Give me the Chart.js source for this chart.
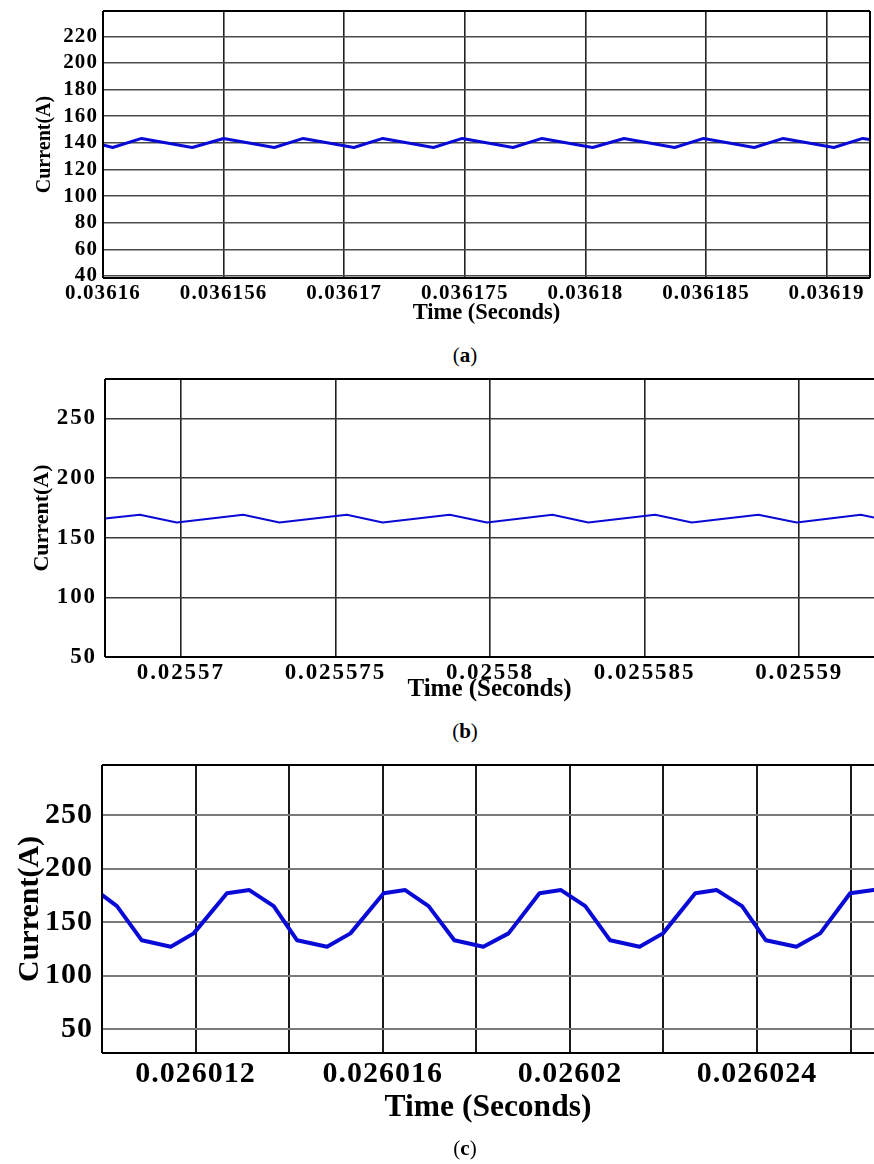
<!DOCTYPE html>
<html>
<head>
<meta charset="utf-8">
<script src="https://cdn.jsdelivr.net/npm/chart.js@4.4.1/dist/chart.umd.min.js"></script>
<style>
  html, body { margin: 0; padding: 0; background: #fff; }
  body { width: 874px; height: 1164px; position: relative; overflow: hidden; }
  canvas { position: absolute; left: 0; }
  .cap { position: absolute; width: 60px; margin-left: -30px; text-align: center;
         font: 21px "Liberation Serif", serif; color: #000; line-height: 24px; }
</style>
</head>
<body>
<canvas id="panelA" width="874" height="340" style="top:0px"></canvas>
<canvas id="panelB" width="874" height="340" style="top:370px"></canvas>
<canvas id="panelC" width="874" height="390" style="top:750px"></canvas>
<div class="cap" style="left:465px; top:343px">(<b>a</b>)</div>
<div class="cap" style="left:465px; top:719px">(<b>b</b>)</div>
<div class="cap" style="left:465px; top:1136px">(<b>c</b>)</div>

<script>
// ---- (a) inductor current, steady state ----
const timeA = [0.03616, 0.0361604, 0.0361616, 0.0361637, 0.036165, 0.0361671, 0.0361683,
  0.0361704, 0.0361716, 0.0361737, 0.0361749, 0.036177, 0.0361782, 0.0361803, 0.0361816,
  0.0361837, 0.0361849, 0.036187, 0.0361882, 0.0361903, 0.0361915, 0.0361918];
const currentA = [138.5, 136.5, 143.3, 136.5, 143.3, 136.5, 143.3, 136.5, 143.3, 136.5, 143.3,
  136.5, 143.3, 136.5, 143.3, 136.5, 143.3, 136.5, 143.3, 136.5, 143.3, 142.4];
const xTickValuesA = [0.03616, 0.036165, 0.03617, 0.036175, 0.03618, 0.036185, 0.03619];
const xTickLabelsA = ['0.03616', '0.036156', '0.03617', '0.036175', '0.03618', '0.036185', '0.03619'];
const yTickValuesA = [40, 60, 80, 100, 120, 140, 160, 180, 200, 220];

// ---- (b) ----
const timeB = [0.02556755, 0.02556868, 0.02556987, 0.02557202, 0.02557319, 0.02557537,
  0.02557653, 0.0255787, 0.0255799, 0.02558202, 0.02558318, 0.02558534, 0.02558653,
  0.02558868, 0.02558992, 0.02559199, 0.02559242];
const currentB = [166.0, 169.3, 162.8, 169.3, 162.8, 169.3, 162.8, 169.3, 162.8, 169.3,
  162.8, 169.3, 162.8, 169.3, 162.8, 169.3, 166.9];
const xTickValuesB = [0.02557, 0.025575, 0.02558, 0.025585, 0.02559];
const xTickLabelsB = ['0.02557', '0.025575', '0.02558', '0.025585', '0.02559'];
const yTickValuesB = [50, 100, 150, 200, 250];

// ---- (c) ----
const timeC = [0.02601, 0.02601032, 0.02601085, 0.02601147, 0.02601196, 0.02601267,
  0.02601315, 0.02601367, 0.02601417, 0.02601481, 0.02601531, 0.02601602, 0.02601648,
  0.02601698, 0.02601753, 0.02601815, 0.02601869, 0.02601935, 0.02601981, 0.02602033,
  0.02602086, 0.02602149, 0.02602199, 0.02602268, 0.02602314, 0.02602368, 0.02602419,
  0.02602484, 0.02602535, 0.02602599, 0.02602649];
const currentC = [175.5, 165, 133, 127, 139.5, 177, 180, 165, 133, 127, 139.5, 177, 180,
  165, 133, 127, 139.5, 177, 180, 165, 133, 127, 139.5, 177, 180, 165, 133, 127, 139.5, 177, 180];
const xTickValuesC = [0.026012, 0.026014, 0.026016, 0.026018, 0.02602, 0.026022, 0.026024, 0.026026];
const xTickLabelsC = ['0.026012', '', '0.026016', '', '0.02602', '', '0.026024', ''];
const yTickValuesC = [50, 100, 150, 200, 250];

const LINE_BLUE = '#0a0ad6';
const FONT = '"Liberation Serif", "Times New Roman", serif';

// Black frame around the plotting area (only the requested sides);
// tick numerals are drawn afterwards with slightly wide letter spacing.
const framePlugin = {
  id: 'frame',
  beforeDraw(chart) {
    chart.ctx.letterSpacing = '0px';
  },
  afterDatasetsDraw(chart, args, opts) {
    const { ctx, chartArea: a } = chart;
    const sides = opts.sides || ['top', 'right', 'bottom', 'left'];
    ctx.save();
    ctx.strokeStyle = '#000';
    ctx.lineWidth = opts.width || 2;
    ctx.beginPath();
    if (sides.includes('top')) { ctx.moveTo(a.left, a.top); ctx.lineTo(a.right, a.top); }
    if (sides.includes('right')) { ctx.moveTo(a.right, a.top); ctx.lineTo(a.right, a.bottom); }
    if (sides.includes('bottom')) { ctx.moveTo(a.left, a.bottom); ctx.lineTo(a.right, a.bottom); }
    if (sides.includes('left')) { ctx.moveTo(a.left, a.top); ctx.lineTo(a.left, a.bottom); }
    ctx.stroke();
    ctx.restore();
    ctx.letterSpacing = (opts.letterSpacing || 0) + 'px';
  },
  afterDraw(chart) {
    chart.ctx.letterSpacing = '0px';
  }
};

function makePanel(id, p) {
  const canvas = document.getElementById(id);
  const W = canvas.width, H = canvas.height;
  const points = p.times.map((t, i) => ({ x: t, y: p.current[i] }));
  return new Chart(canvas, {
    type: 'line',
    data: {
      datasets: [{
        data: points,
        borderColor: LINE_BLUE,
        borderWidth: p.lineWidth,
        pointRadius: 0,
        tension: 0,
        fill: false,
        borderJoinStyle: 'round',
        borderCapStyle: 'round'
      }]
    },
    options: {
      responsive: false,
      animation: false,
      events: [],
      layout: { padding: { left: 0, top: p.area.top, right: W - p.area.right, bottom: 0 } },
      plugins: {
        legend: { display: false },
        tooltip: { enabled: false },
        frame: { sides: p.frameSides, width: 2, letterSpacing: p.spacing }
      },
      scales: {
        x: {
          type: 'linear',
          min: p.xMin,
          max: p.xMax,
          afterBuildTicks: s => { s.ticks = p.xTickValues.map(v => ({ value: v })); },
          afterFit: s => { s.height = H - p.area.bottom; s.paddingLeft = 0; s.paddingRight = 0; },
          grid: { color: p.vGrid, lineWidth: p.gridWidth, drawTicks: false },
          border: { display: false },
          ticks: {
            z: 1,
            autoSkip: false, maxRotation: 0, minRotation: 0,
            padding: p.xTickPad, color: '#000',
            font: { family: FONT, size: p.font, weight: 'bold' },
            callback: (v, i) => p.xTickLabels[i]
          },
          title: {
            display: true, text: 'Time (Seconds)', color: '#000',
            font: { family: FONT, size: p.xTitleFont, weight: 'bold' },
            padding: { top: 0, bottom: p.xTitlePad }
          }
        },
        y: {
          type: 'linear',
          min: p.yMin,
          max: p.yMax,
          afterBuildTicks: s => { s.ticks = p.yTickValues.map(v => ({ value: v })); },
          afterFit: s => { s.width = p.area.left; s.paddingTop = 0; s.paddingBottom = 0; },
          grid: { color: p.hGrid, lineWidth: p.gridWidth, drawTicks: false },
          border: { display: false },
          ticks: {
            z: 1,
            padding: p.yTickPad, color: '#000',
            font: { family: FONT, size: p.font, weight: 'bold' },
            callback: v => String(v)
          },
          title: {
            display: true, text: 'Current(A)', color: '#000',
            font: { family: FONT, size: p.yTitleFont, weight: 'bold' },
            padding: { top: p.yTitlePad, bottom: 0 }
          }
        }
      }
    },
    plugins: [framePlugin]
  });
}

makePanel('panelA', {
  times: timeA, current: currentA,
  xTickValues: xTickValuesA, xTickLabels: xTickLabelsA, yTickValues: yTickValuesA,
  xMin: 0.03616, xMax: 0.0361918, yMin: 38.5, yMax: 239,
  area: { left: 103, right: 870, top: 11, bottom: 278 },
  frameSides: ['top', 'right', 'bottom', 'left'],
  lineWidth: 3, gridWidth: 1.6, hGrid: '#4a4a4a', vGrid: '#222',
  font: 21, xTitleFont: 22.5, yTitleFont: 20, spacing: 1.1,
  xTickPad: 3, xTitlePad: 13, yTickPad: 5, yTitlePad: 33
});

makePanel('panelB', {
  times: timeB, current: currentB,
  xTickValues: xTickValuesB, xTickLabels: xTickLabelsB, yTickValues: yTickValuesB,
  xMin: 0.02556755, xMax: 0.02559242, yMin: 50, yMax: 283,
  area: { left: 105, right: 874, top: 9, bottom: 287 },
  frameSides: ['top', 'bottom', 'left'],
  lineWidth: 2, gridWidth: 1.6, hGrid: '#3a3a3a', vGrid: '#222',
  font: 23, xTitleFont: 25, yTitleFont: 22, spacing: 1.9,
  xTickPad: 2, xTitlePad: 5, yTickPad: 8, yTitlePad: 29
});

makePanel('panelC', {
  times: timeC, current: currentC,
  xTickValues: xTickValuesC, xTickLabels: xTickLabelsC, yTickValues: yTickValuesC,
  xMin: 0.02601, xMax: 0.0260265, yMin: 27.6, yMax: 297,
  area: { left: 102, right: 874, top: 15, bottom: 303 },
  frameSides: ['top', 'bottom', 'left'],
  lineWidth: 4, gridWidth: 2, hGrid: '#7a7a7a', vGrid: '#1a1a1a',
  font: 30, xTitleFont: 31.5, yTitleFont: 30, spacing: 1,
  xTickPad: 3, xTitlePad: 13, yTickPad: 9, yTitlePad: 12
});
</script>
</body>
</html>
